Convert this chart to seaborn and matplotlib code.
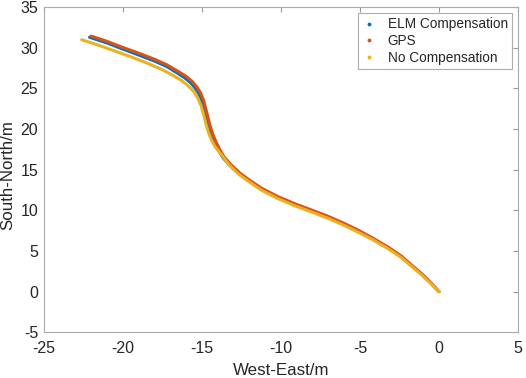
import matplotlib
matplotlib.use("Agg")
import matplotlib.pyplot as plt
from matplotlib.lines import Line2D
import seaborn as sns
import pandas as pd

# trajectories (metres)
gps_x = [-22.0, -21.0, -20.0, -19.0, -18.0, -17.2, -16.5, -16.0, -15.6, -15.3, -15.08, -14.9,
         -14.76, -14.63, -14.49, -14.33, -14.13, -13.9, -13.6, -13.2, -12.6, -11.9, -11.2, -10.2,
         -9.1, -8.0, -7.0, -6.0, -5.1, -4.2, -3.2, -2.4, -1.7, -1.1, -0.6, 0.0]
gps_y = [31.45, 30.8, 30.05, 29.35, 28.6, 27.9, 27.1, 26.5, 25.85, 25.15, 24.45, 23.6,
         22.6, 21.6, 20.5, 19.5, 18.55, 17.6, 16.6, 15.7, 14.6, 13.6, 12.7, 11.7,
         10.8, 10.0, 9.25, 8.4, 7.55, 6.6, 5.45, 4.4, 3.2, 2.2, 1.25, 0.0]

elm_x = [-22.1, -21.0, -20.0, -19.0, -18.0, -17.2, -16.55, -16.08, -15.7, -15.4, -15.17, -14.99,
         -14.85, -14.72, -14.58, -14.42, -14.22, -13.98, -13.67, -13.27, -12.65, -11.9, -11.2, -10.2,
         -9.1, -8.0, -7.0, -6.0, -5.1, -4.2, -3.2, -2.4, -1.7, -1.1, -0.6, 0.0]
elm_y = [31.3, 30.6, 29.85, 29.12, 28.38, 27.68, 26.9, 26.3, 25.68, 25.0, 24.3, 23.45,
         22.5, 21.5, 20.4, 19.4, 18.45, 17.5, 16.5, 15.6, 14.5, 13.45, 12.55, 11.55,
         10.65, 9.87, 9.12, 8.28, 7.43, 6.5, 5.37, 4.32, 3.14, 2.15, 1.2, 0.0]

nocomp_x = [-22.6, -21.5, -20.5, -19.5, -18.5, -17.6, -16.9, -16.3, -15.85, -15.5, -15.25, -15.05,
            -14.9, -14.76, -14.6, -14.4, -14.15, -13.8, -13.3, -12.7, -12.0, -11.2, -10.2,
            -9.1, -8.0, -7.0, -6.0, -5.1, -4.2, -3.2, -2.4, -1.7, -1.1, -0.6, 0.0]
nocomp_y = [31.0, 30.3, 29.6, 28.9, 28.15, 27.4, 26.7, 26.0, 25.3, 24.6, 23.8, 22.9,
            21.9, 20.8, 19.7, 18.7, 17.8, 16.95, 15.65, 14.5, 13.5, 12.45, 11.45,
            10.55, 9.75, 9.0, 8.15, 7.3, 6.4, 5.25, 4.2, 3.05, 2.05, 1.15, 0.0]

labels = ["ELM Compensation", "GPS", "No Compensation"]
colors = ["#0072BD", "#D95319", "#EDB120"]

sns.set_style("white")
plt.rcParams["font.family"] = ["Liberation Sans", "DejaVu Sans"]
plt.rcParams["axes.unicode_minus"] = False

fig = plt.figure(figsize=(5.26, 3.78), dpi=100)
ax = fig.add_axes([0.083, 0.121, 0.902, 0.86])

series = [(elm_x, elm_y), (gps_x, gps_y), (nocomp_x, nocomp_y)]
for (xs, ys), lab, c in zip(series, labels, colors):
    df = pd.DataFrame({"x": xs, "y": ys})
    sns.lineplot(data=df, x="x", y="y", sort=False, ax=ax, color=c, lw=2.2,
                 solid_capstyle="round", estimator=None)

ax.set_xlim(-25, 5)
ax.set_ylim(-5, 35)
ax.set_xticks(range(-25, 6, 5))
ax.set_yticks(range(-5, 36, 5))
ax.tick_params(direction="in", length=3.5, top=True, right=True, labelsize=11.5,
               color="#999999", labelcolor="#262626")
ax.tick_params(axis="x", pad=6.5)
ax.tick_params(axis="y", pad=4)
for s in ax.spines.values():
    s.set_color("#aaaaaa")
    s.set_linewidth(0.8)
ax.set_xlabel("West-East/m", fontsize=12.2, color="#262626")
ax.set_ylabel("South-North/m", fontsize=12.2, color="#262626")
ax.xaxis.set_label_coords(0.5, -0.095)
ax.yaxis.set_label_coords(-0.06, 0.485)

handles = [Line2D([], [], ls="none", marker=".", markersize=3.5, color=c) for c in colors]
leg = ax.legend(handles, labels, loc="upper right", fontsize=9.8, frameon=True,
                fancybox=False, edgecolor="#999999", borderaxespad=0.45,
                handletextpad=0.9, labelspacing=0.2, borderpad=0.3,
                handlelength=1.0)
leg.get_frame().set_linewidth(0.8)

fig.savefig("out.png", dpi=100)
